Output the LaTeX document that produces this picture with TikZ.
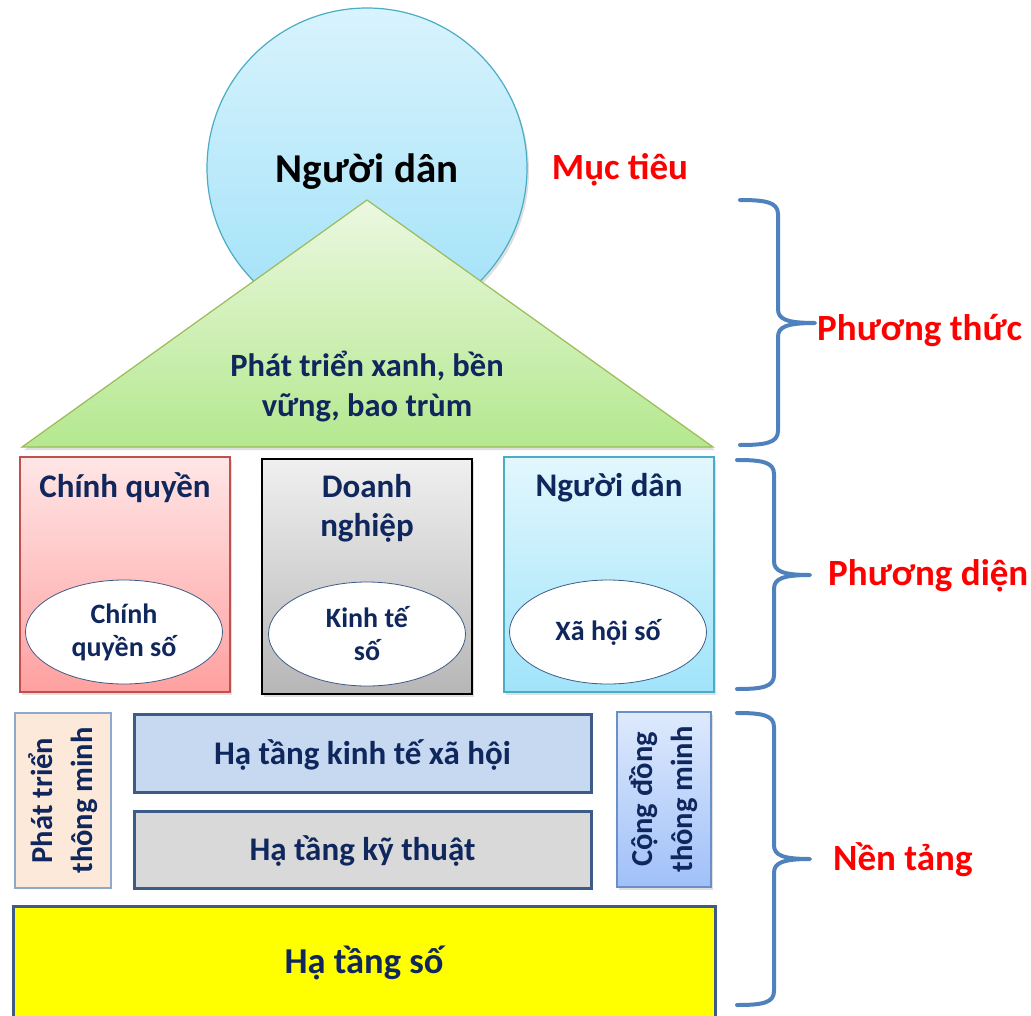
\documentclass[tikz,border=0pt]{standalone}
\usepackage{fontspec}
\setmainfont{Carlito}
\usetikzlibrary{shapes.geometric,shadows}
\definecolor{navy}{HTML}{10275E}
\definecolor{bracecol}{HTML}{4F81BD}
\definecolor{slate}{HTML}{3D5B87}
\newcommand\BraceDraw[6]{% x0, xv, xt, ytop, ymid, ybot
  \draw[bracestyle] (#1,#4) .. controls (#1+25,#4) and (#2,#4+2) .. (#2,#4+14)
    -- (#2,#5-14) .. controls (#2,#5-4) and (#2+8,#5) .. (#3,#5)
    .. controls (#2+8,#5) and (#2,#5+4) .. (#2,#5+14)
    -- (#2,#6-14) .. controls (#2,#6-2) and (#1+25,#6) .. (#1,#6);}
\begin{document}
\begin{tikzpicture}[x=1pt,y=-1pt,
  bracestyle/.style={draw=bracecol,line width=4pt,line cap=round,line join=round},
  redlabel/.style={text=red,font=\bfseries\fontsize{37}{40}\selectfont,inner sep=0pt},
  navytext/.style={text=navy,align=center,inner sep=0pt},
  titlefont/.style={font=\bfseries\fontsize{33}{39}\selectfont},
  ovalfont/.style={font=\bfseries\fontsize{28}{33}\selectfont},
  shadowed/.style={drop shadow={opacity=0.25,shadow xshift=2pt,shadow yshift=-3pt}},
  pillar/.style={rectangle,inner sep=0pt,minimum width=210,minimum height=235,shadowed},
  oval/.style={ellipse,draw=slate,line width=0.8pt,fill=white,inner sep=0pt,minimum width=197,minimum height=104},
  layer/.style={rectangle,draw=slate,line width=3pt,inner sep=0pt,minimum width=457,minimum height=78}
]
\useasboundingbox (0,0) rectangle (1031,1015);
\clip (0,0) rectangle (1031,1015);

% Goal circle
\node[circle,minimum size=320,inner sep=0pt,top color={rgb,255:red,216;green,243;blue,253},bottom color={rgb,255:red,160;green,225;blue,248},draw={rgb,255:red,75;green,172;blue,198},line width=1.2pt,shadowed] (goal) at (367,168) {};
\node[text=black,font=\bfseries\fontsize{41}{46}\selectfont,inner sep=0pt] (goaltext) at (367,172) {Người dân};
\node[redlabel] (muctieu) at (620,170) {Mục tiêu};

% Triangle
\path[draw={rgb,255:red,155;green,187;blue,89},line width=1.2pt,top color={rgb,255:red,236;green,248;blue,225},bottom color={rgb,255:red,180;green,232;blue,142},shadowed]
  (367,200) -- (713,447) -- (22,447) -- cycle;
\node[navytext,font=\bfseries\fontsize{32.5}{40}\selectfont] (way) at (367,386) {Phát triển xanh, bền\\vững, bao trùm};

% Pillars
\node[pillar,draw={rgb,255:red,192;green,80;blue,77},line width=2pt,top color={rgb,255:red,255;green,230;blue,230},bottom color={rgb,255:red,255;green,160;blue,160}] (gov) at (125,574.5) {};
\node[pillar,draw=black,line width=2pt,top color={rgb,255:red,240;green,240;blue,240},bottom color={rgb,255:red,182;green,182;blue,182}] (biz) at (367,576) {};
\node[pillar,draw={rgb,255:red,75;green,172;blue,198},line width=1.5pt,top color={rgb,255:red,226;green,247;blue,253},bottom color={rgb,255:red,160;green,228;blue,250}] (ppl) at (609,574.5) {};

\node[navytext,titlefont] (govt) at (125,488) {Chính quyền};
\node[navytext,titlefont] (bizt) at (367,508) {Doanh\\nghiệp};
\node[navytext,titlefont] (pplt) at (609,488) {Người dân};

\node[oval,navytext,ovalfont,text=navy] (gove) at (124,632) {Chính\\quyền số};
\node[oval,navytext,ovalfont,text=navy] (bize) at (367,634) {Kinh tế\\số};
\node[oval,navytext,ovalfont,text=navy] (pple) at (608,632) {Xã hội số};

% Foundation
\node[rectangle,inner sep=0pt,minimum width=96,minimum height=175,fill={rgb,255:red,253;green,233;blue,217},draw={rgb,255:red,142;green,169;blue,201},line width=1.5pt] (smartdev) at (63,800.5) {};
\node[navytext,font=\bfseries\fontsize{30.5}{40}\selectfont,rotate=90] (smartdevt) at (63,800.5) {Phát triển\\thông minh};

\node[layer,fill={rgb,255:red,198;green,217;blue,240}] (socio) at (362.5,753) {};
\node[navytext,titlefont] (sociot) at (362.5,755) {Hạ tầng kinh tế xã hội};
\node[layer,fill={rgb,255:red,217;green,217;blue,217},minimum height=77] (tech) at (362.5,849.5) {};
\node[navytext,titlefont] (techt) at (362.5,851) {Hạ tầng kỹ thuật};

\node[rectangle,inner sep=0pt,minimum width=94,minimum height=175,top color={rgb,255:red,222;green,234;blue,253},bottom color={rgb,255:red,160;green,192;blue,248},draw={rgb,255:red,107;green,143;blue,201},line width=1.5pt,shadowed] (comm) at (664,799.5) {};
\node[navytext,font=\bfseries\fontsize{30.5}{40}\selectfont,rotate=90] (commt) at (664,799.5) {Cộng đồng\\thông minh};

\node[rectangle,inner sep=0pt,minimum width=702,minimum height=118,fill={rgb,255:red,255;green,255;blue,0},draw=slate,line width=3pt] (digital) at (364,965) {};
\node[navytext,font=\bfseries\fontsize{36.5}{40}\selectfont] (digitalt) at (364,963) {Hạ tầng số};

% Braces and labels
\BraceDraw{740}{778}{815}{200}{323}{445}
\node[redlabel,anchor=west] (phuongthuc) at (817,330) {Phương thức};
\BraceDraw{737}{774}{810}{460}{575}{689}
\node[redlabel,anchor=west] (phuongdien) at (828,576) {Phương diện};
\BraceDraw{737}{774}{810}{713}{859}{1005}
\node[redlabel,anchor=west] (nentang) at (833,860) {Nền tảng};
\end{tikzpicture}
\end{document}
